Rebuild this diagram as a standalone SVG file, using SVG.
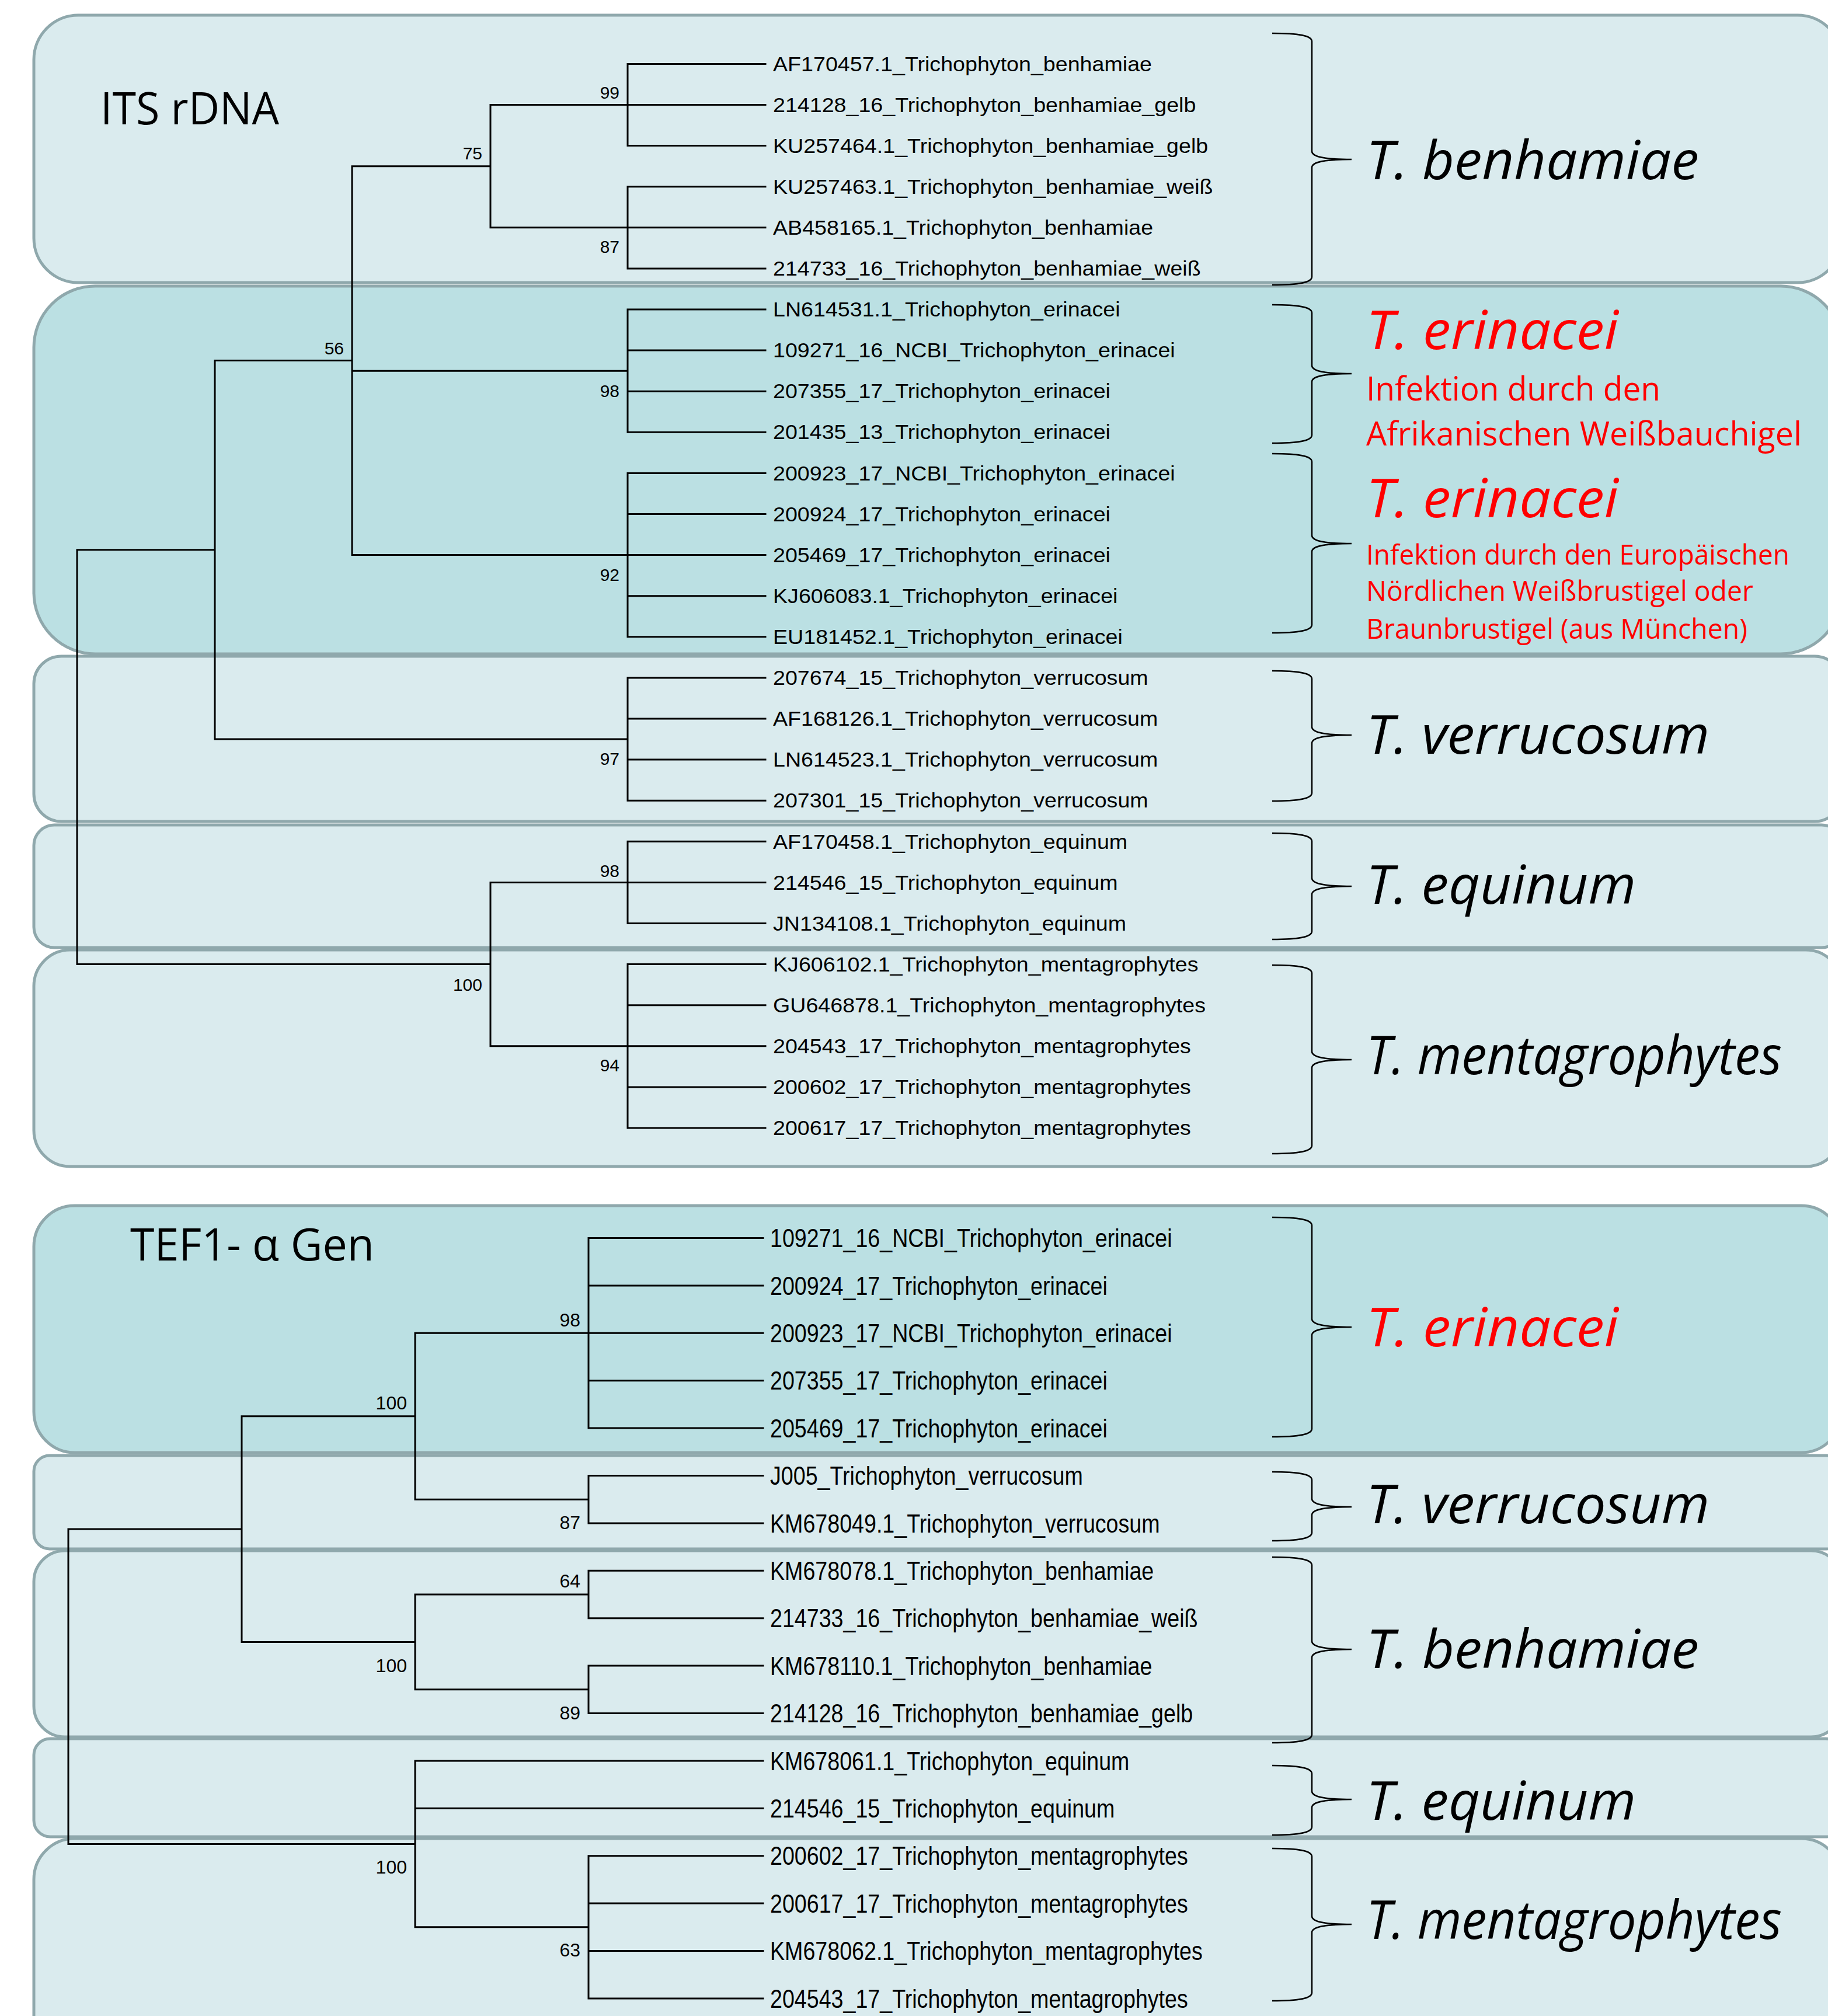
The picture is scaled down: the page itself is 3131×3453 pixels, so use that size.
<svg xmlns="http://www.w3.org/2000/svg" width="3131" height="3453" viewBox="0 0 3131 3453">
<style>
.bl{fill:#DAEBEE;stroke:#8FA8AC;stroke-width:5}
.bd{fill:#BBE0E3;stroke:#8FA8AC;stroke-width:5}
.tree{stroke:#000;stroke-width:3;fill:none;stroke-linecap:square}
.brace{stroke:#000;stroke-width:2.5;fill:none}
.its{font-family:"Liberation Sans",Arial,sans-serif;font-size:35px;fill:#000}
.tef{font-family:"Liberation Sans",Arial,sans-serif;font-size:44px;fill:#000}
.bs{font-family:"Liberation Sans",Arial,sans-serif;font-size:30px;fill:#000;text-anchor:end}
.bst{font-family:"Liberation Sans",Arial,sans-serif;font-size:32px;fill:#000;text-anchor:end}
.sp{font-family:"Open Sans","Noto Sans",sans-serif;font-style:italic;font-size:92px;fill:#000}
.red{fill:#FF0000}
.sub{font-family:"Open Sans","Noto Sans",sans-serif;fill:#FF0000}
.title{font-family:"Open Sans","Noto Sans",sans-serif;font-size:77px;fill:#000}
</style>
<g id="boxes">
<rect id="box-its-benhamiae" class="bl" x="58" y="26" width="3097" height="458" rx="76" ry="76"/>
<rect id="box-its-erinacei" class="bd" x="58" y="490" width="3097" height="630" rx="105" ry="105"/>
<rect id="box-its-verrucosum" class="bl" x="58" y="1124" width="3097" height="283" rx="47" ry="47"/>
<rect id="box-its-equinum" class="bl" x="58" y="1413" width="3097" height="210" rx="35" ry="35"/>
<rect id="box-its-mentagrophytes" class="bl" x="58" y="1627" width="3097" height="371" rx="62" ry="62"/>
<rect id="box-tef-erinacei" class="bd" x="58" y="2065" width="3097" height="423" rx="70" ry="70"/>
<rect id="box-tef-verrucosum" class="bl" x="58" y="2493" width="3097" height="160" rx="27" ry="27"/>
<rect id="box-tef-benhamiae" class="bl" x="58" y="2656" width="3097" height="319" rx="53" ry="53"/>
<rect id="box-tef-equinum" class="bl" x="58" y="2978" width="3097" height="168" rx="28" ry="28"/>
<rect id="box-tef-mentagrophytes" class="bl" x="58" y="3149" width="3097" height="420" rx="70" ry="70"/>
</g>
<g id="titles">
<text id="title-its" class="title" x="172" y="213" textLength="306" lengthAdjust="spacingAndGlyphs">ITS rDNA</text>
<text id="title-tef" class="title" x="223" y="2159" textLength="418" lengthAdjust="spacingAndGlyphs">TEF1- α Gen</text>
</g>
<g id="connectors">
<path id="tree-its" class="tree" d="M132,941.8V1651.6 M132,941.8H368 M368,617.6V1266.1 M368,617.6H603 M603,284.7V950.6 M603,284.7H840 M840,179.5V389.8 M840,179.5H1075 M1075,109.4V249.6 M1075,109.4H1311 M1075,179.5H1311 M1075,249.6H1311 M840,389.8H1075 M1075,319.7V459.9 M1075,319.7H1311 M1075,389.8H1311 M1075,459.9H1311 M603,635.2H1075 M1075,530V740.3 M1075,530H1311 M1075,600.1H1311 M1075,670.2H1311 M1075,740.3H1311 M603,950.6H1075 M1075,810.4V1090.8 M1075,810.4H1311 M1075,880.5H1311 M1075,950.6H1311 M1075,1020.7H1311 M1075,1090.8H1311 M368,1266.1H1075 M1075,1160.9V1371.2 M1075,1160.9H1311 M1075,1231H1311 M1075,1301.1H1311 M1075,1371.2H1311 M132,1651.6H840 M840,1511.4V1791.8 M840,1511.4H1075 M1075,1441.3V1581.5 M1075,1441.3H1311 M1075,1511.4H1311 M1075,1581.5H1311 M840,1791.8H1075 M1075,1651.6V1932 M1075,1651.6H1311 M1075,1721.7H1311 M1075,1791.8H1311 M1075,1861.9H1311 M1075,1932H1311"/>
<path id="tree-tef" class="tree" d="M117,2619.1V3158.4 M117,2619.1H414 M414,2425.8V2812.4 M414,2425.8H711 M711,2283.3V2568.2 M711,2283.3H1008 M1008,2120.5V2446.1 M1008,2120.5H1307 M1008,2201.9H1307 M1008,2283.3H1307 M1008,2364.7H1307 M1008,2446.1H1307 M711,2568.2H1008 M1008,2527.5V2608.9 M1008,2527.5H1307 M1008,2608.9H1307 M414,2812.4H711 M711,2731V2893.8 M711,2731H1008 M1008,2690.3V2771.7 M1008,2690.3H1307 M1008,2771.7H1307 M711,2893.8H1008 M1008,2853.1V2934.5 M1008,2853.1H1307 M1008,2934.5H1307 M117,3158.4H711 M711,3015.9V3300.8 M711,3015.9H1307 M711,3097.3H1307 M711,3300.8H1008 M1008,3178.7V3422.9 M1008,3178.7H1307 M1008,3260.1H1307 M1008,3341.5H1307 M1008,3422.9H1307"/>
</g>
<g id="bootstrap-its">
<text class="bs" x="1061" y="169">99</text>
<text class="bs" x="1061" y="433">87</text>
<text class="bs" x="826" y="273">75</text>
<text class="bs" x="589" y="607">56</text>
<text class="bs" x="1061" y="680">98</text>
<text class="bs" x="1061" y="995">92</text>
<text class="bs" x="1061" y="1310">97</text>
<text class="bs" x="1061" y="1502">98</text>
<text class="bs" x="826" y="1697">100</text>
<text class="bs" x="1061" y="1835">94</text>
</g>
<g id="bootstrap-tef">
<text class="bst" x="994" y="2272">98</text>
<text class="bst" x="697" y="2414">100</text>
<text class="bst" x="994" y="2619">87</text>
<text class="bst" x="994" y="2719">64</text>
<text class="bst" x="697" y="2864">100</text>
<text class="bst" x="994" y="2945">89</text>
<text class="bst" x="697" y="3209">100</text>
<text class="bst" x="994" y="3351">63</text>
</g>
<g id="leaves-its" class="its" transform="translate(1324,0) scale(1.075,1)">
<text x="0" y="122">AF170457.1_Trichophyton_benhamiae</text>
<text x="0" y="192">214128_16_Trichophyton_benhamiae_gelb</text>
<text x="0" y="262">KU257464.1_Trichophyton_benhamiae_gelb</text>
<text x="0" y="332">KU257463.1_Trichophyton_benhamiae_weiß</text>
<text x="0" y="402">AB458165.1_Trichophyton_benhamiae</text>
<text x="0" y="472">214733_16_Trichophyton_benhamiae_weiß</text>
<text x="0" y="542.5">LN614531.1_Trichophyton_erinacei</text>
<text x="0" y="612.5">109271_16_NCBI_Trichophyton_erinacei</text>
<text x="0" y="682.5">207355_17_Trichophyton_erinacei</text>
<text x="0" y="752.5">201435_13_Trichophyton_erinacei</text>
<text x="0" y="823">200923_17_NCBI_Trichophyton_erinacei</text>
<text x="0" y="893">200924_17_Trichophyton_erinacei</text>
<text x="0" y="963">205469_17_Trichophyton_erinacei</text>
<text x="0" y="1033">KJ606083.1_Trichophyton_erinacei</text>
<text x="0" y="1103">EU181452.1_Trichophyton_erinacei</text>
<text x="0" y="1173.5">207674_15_Trichophyton_verrucosum</text>
<text x="0" y="1243.5">AF168126.1_Trichophyton_verrucosum</text>
<text x="0" y="1313.5">LN614523.1_Trichophyton_verrucosum</text>
<text x="0" y="1383.5">207301_15_Trichophyton_verrucosum</text>
<text x="0" y="1454">AF170458.1_Trichophyton_equinum</text>
<text x="0" y="1524">214546_15_Trichophyton_equinum</text>
<text x="0" y="1594">JN134108.1_Trichophyton_equinum</text>
<text x="0" y="1664">KJ606102.1_Trichophyton_mentagrophytes</text>
<text x="0" y="1734">GU646878.1_Trichophyton_mentagrophytes</text>
<text x="0" y="1804">204543_17_Trichophyton_mentagrophytes</text>
<text x="0" y="1874.5">200602_17_Trichophyton_mentagrophytes</text>
<text x="0" y="1944.5">200617_17_Trichophyton_mentagrophytes</text>
</g>
<g id="leaves-tef" class="tef" transform="translate(1319,0) scale(0.855,1)">
<text x="0" y="2136.5">109271_16_NCBI_Trichophyton_erinacei</text>
<text x="0" y="2218">200924_17_Trichophyton_erinacei</text>
<text x="0" y="2299.5">200923_17_NCBI_Trichophyton_erinacei</text>
<text x="0" y="2380.5">207355_17_Trichophyton_erinacei</text>
<text x="0" y="2462">205469_17_Trichophyton_erinacei</text>
<text x="0" y="2543.5">J005_Trichophyton_verrucosum</text>
<text x="0" y="2625">KM678049.1_Trichophyton_verrucosum</text>
<text x="0" y="2706.5">KM678078.1_Trichophyton_benhamiae</text>
<text x="0" y="2787.5">214733_16_Trichophyton_benhamiae_weiß</text>
<text x="0" y="2869">KM678110.1_Trichophyton_benhamiae</text>
<text x="0" y="2950.5">214128_16_Trichophyton_benhamiae_gelb</text>
<text x="0" y="3032">KM678061.1_Trichophyton_equinum</text>
<text x="0" y="3113.5">214546_15_Trichophyton_equinum</text>
<text x="0" y="3194.5">200602_17_Trichophyton_mentagrophytes</text>
<text x="0" y="3276">200617_17_Trichophyton_mentagrophytes</text>
<text x="0" y="3357.5">KM678062.1_Trichophyton_mentagrophytes</text>
<text x="0" y="3439">204543_17_Trichophyton_mentagrophytes</text>
</g>
<g id="clade-its-benhamiae">
<path class="brace" d="M2179,57 C2225,57 2247,61 2247,71 L2247,259 C2247,269 2270,273 2315,273 C2270,273 2247,277 2247,287 L2247,474 C2247,484 2225,488 2179,488"/>
<text class="sp" x="2340" y="307" textLength="570" lengthAdjust="spacingAndGlyphs">T. benhamiae</text>
</g>
<g id="clade-its-erinacei-1">
<path class="brace" d="M2179,522 C2225,522 2247,526 2247,536 L2247,626 C2247,636 2270,640 2315,640 C2270,640 2247,644 2247,654 L2247,745 C2247,755 2225,759 2179,759"/>
<text class="sp red" x="2340" y="598" textLength="432" lengthAdjust="spacingAndGlyphs">T. erinacei</text>
<text class="sub" x="2340" y="686" font-size="57" textLength="504" lengthAdjust="spacingAndGlyphs">Infektion durch den</text>
<text class="sub" x="2340" y="763" font-size="57" textLength="746" lengthAdjust="spacingAndGlyphs">Afrikanischen Weißbauchigel</text>
</g>
<g id="clade-its-erinacei-2">
<path class="brace" d="M2179,777 C2225,777 2247,781 2247,791 L2247,917 C2247,927 2270,931 2315,931 C2270,931 2247,935 2247,945 L2247,1070 C2247,1080 2225,1084 2179,1084"/>
<text class="sp red" x="2340" y="886" textLength="432" lengthAdjust="spacingAndGlyphs">T. erinacei</text>
<text class="sub" x="2340" y="967" font-size="47" textLength="725" lengthAdjust="spacingAndGlyphs">Infektion durch den Europäischen</text>
<text class="sub" x="2340" y="1029" font-size="47" textLength="663" lengthAdjust="spacingAndGlyphs">Nördlichen Weißbrustigel oder</text>
<text class="sub" x="2340" y="1094" font-size="47" textLength="653" lengthAdjust="spacingAndGlyphs">Braunbrustigel (aus München)</text>
</g>
<g id="clade-its-verrucosum">
<path class="brace" d="M2179,1149 C2225,1149 2247,1153 2247,1163 L2247,1245 C2247,1255 2270,1259 2315,1259 C2270,1259 2247,1263 2247,1273 L2247,1358 C2247,1368 2225,1372 2179,1372"/>
<text class="sp" x="2340" y="1291" textLength="588" lengthAdjust="spacingAndGlyphs">T. verrucosum</text>
</g>
<g id="clade-its-equinum">
<path class="brace" d="M2179,1427 C2225,1427 2247,1431 2247,1441 L2247,1504 C2247,1514 2270,1518 2315,1518 C2270,1518 2247,1522 2247,1532 L2247,1595 C2247,1605 2225,1609 2179,1609"/>
<text class="sp" x="2340" y="1548" textLength="462" lengthAdjust="spacingAndGlyphs">T. equinum</text>
</g>
<g id="clade-its-mentagrophytes">
<path class="brace" d="M2179,1653 C2225,1653 2247,1657 2247,1667 L2247,1801 C2247,1811 2270,1815 2315,1815 C2270,1815 2247,1819 2247,1829 L2247,1962 C2247,1972 2225,1976 2179,1976"/>
<text class="sp" x="2340" y="1840" textLength="712" lengthAdjust="spacingAndGlyphs">T. mentagrophytes</text>
</g>
<g id="clade-tef-erinacei">
<path class="brace" d="M2179,2085 C2225,2085 2247,2089 2247,2099 L2247,2259 C2247,2269 2270,2273 2315,2273 C2270,2273 2247,2277 2247,2287 L2247,2447 C2247,2457 2225,2461 2179,2461"/>
<text class="sp red" x="2340" y="2306" textLength="432" lengthAdjust="spacingAndGlyphs">T. erinacei</text>
</g>
<g id="clade-tef-verrucosum">
<path class="brace" d="M2179,2521 C2225,2521 2247,2525 2247,2535 L2247,2567 C2247,2577 2270,2581 2315,2581 C2270,2581 2247,2585 2247,2595 L2247,2625 C2247,2635 2225,2639 2179,2639"/>
<text class="sp" x="2340" y="2609" textLength="588" lengthAdjust="spacingAndGlyphs">T. verrucosum</text>
</g>
<g id="clade-tef-benhamiae">
<path class="brace" d="M2179,2667 C2225,2667 2247,2671 2247,2681 L2247,2811 C2247,2821 2270,2825 2315,2825 C2270,2825 2247,2829 2247,2839 L2247,2971 C2247,2981 2225,2985 2179,2985"/>
<text class="sp" x="2340" y="2857" textLength="570" lengthAdjust="spacingAndGlyphs">T. benhamiae</text>
</g>
<g id="clade-tef-equinum">
<path class="brace" d="M2179,3024 C2225,3024 2247,3028 2247,3038 L2247,3068 C2247,3078 2270,3082 2315,3082 C2270,3082 2247,3086 2247,3096 L2247,3129 C2247,3139 2225,3143 2179,3143"/>
<text class="sp" x="2340" y="3117" textLength="462" lengthAdjust="spacingAndGlyphs">T. equinum</text>
</g>
<g id="clade-tef-mentagrophytes">
<path class="brace" d="M2179,3166 C2225,3166 2247,3170 2247,3180 L2247,3282 C2247,3292 2270,3296 2315,3296 C2270,3296 2247,3300 2247,3310 L2247,3413 C2247,3423 2225,3427 2179,3427"/>
<text class="sp" x="2340" y="3321" textLength="712" lengthAdjust="spacingAndGlyphs">T. mentagrophytes</text>
</g>
</svg>
